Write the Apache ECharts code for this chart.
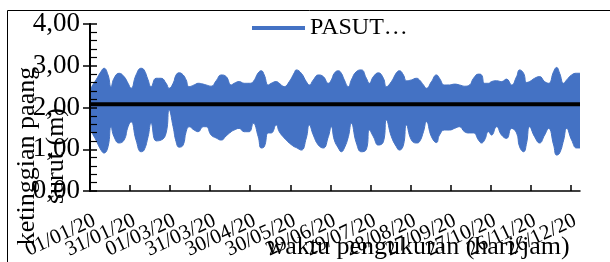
<!DOCTYPE html>
<html>
<head>
<meta charset="utf-8">
<script src="https://cdn.jsdelivr.net/npm/echarts@6/dist/echarts.min.js"></script>
<style>
html,body{margin:0;padding:0;background:#fff;}
#chart{width:610px;height:262px;}
</style>
</head>
<body>
<div id="chart"></div>
<script>
// Day offsets from 01/01/20 at which the envelope of the hourly tide record was read
const days = [0, 2.25, 4.5, 8.25, 10.5, 13.5, 15.75, 18, 21.75, 25.5, 28.5, 30.75, 34.5, 38.25, 40.5, 43.5, 45.75, 49.5, 53.25, 57, 59.25, 62.25, 64.5, 66.75, 69.75, 72, 74.25, 78, 81, 84.75, 87, 90.75, 94.5, 98.25, 102, 105.75, 108, 111.75, 115.5, 119.25, 122.25, 126, 128.25, 130.5, 133.5, 135.75, 139.5, 141.75, 145.5, 149.25, 153, 154.5, 158.25, 162, 164.25, 167.25, 171, 174.75, 178.5, 180.75, 183, 186, 188.25, 190.5, 193.5, 195.75, 199.5, 203.25, 207, 209.25, 212.25, 216, 219.75, 222, 225.75, 229.5, 231.75, 234.75, 237, 240.75, 244.5, 246.75, 249.75, 252, 255.75, 259.5, 261.75, 265.5, 269.25, 273, 276.75, 280.5, 284.25, 287.25, 291, 293.25, 295.5, 298.5, 300.75, 304.5, 308.25, 312, 315.75, 319.5, 321.75, 324.75, 327, 329.25, 333, 336.75, 340.5, 343.5, 347.25, 349.5, 351.75, 354.75, 357, 360.75, 364.5, 367];
// Upper (high water) envelope of the PASUT series, metres
const upper = [2.42, 2.55, 2.66, 2.86, 2.94, 2.78, 2.50, 2.70, 2.82, 2.74, 2.58, 2.46, 2.78, 2.94, 2.90, 2.66, 2.50, 2.70, 2.70, 2.58, 2.46, 2.58, 2.78, 2.83, 2.78, 2.66, 2.50, 2.54, 2.58, 2.56, 2.54, 2.51, 2.64, 2.78, 2.74, 2.54, 2.58, 2.62, 2.58, 2.58, 2.62, 2.83, 2.88, 2.78, 2.54, 2.58, 2.62, 2.58, 2.50, 2.62, 2.83, 2.90, 2.82, 2.62, 2.54, 2.66, 2.78, 2.74, 2.58, 2.66, 2.82, 2.88, 2.82, 2.66, 2.50, 2.66, 2.86, 2.90, 2.70, 2.58, 2.74, 2.83, 2.70, 2.50, 2.62, 2.83, 2.88, 2.78, 2.64, 2.66, 2.70, 2.66, 2.54, 2.46, 2.62, 2.78, 2.70, 2.54, 2.54, 2.56, 2.54, 2.51, 2.54, 2.70, 2.80, 2.78, 2.58, 2.58, 2.62, 2.64, 2.62, 2.68, 2.54, 2.74, 2.90, 2.82, 2.60, 2.62, 2.70, 2.74, 2.62, 2.58, 2.86, 2.96, 2.82, 2.58, 2.66, 2.78, 2.82, 2.82];
// Lower (low water) envelope of the PASUT series, metres
const lower = [1.50, 1.35, 1.22, 0.98, 0.91, 1.06, 1.54, 1.30, 1.15, 1.22, 1.54, 1.66, 1.22, 0.94, 0.98, 1.30, 1.62, 1.20, 1.22, 1.39, 1.94, 1.54, 1.18, 1.05, 1.10, 1.42, 1.54, 1.46, 1.42, 1.54, 1.54, 1.34, 1.27, 1.22, 1.32, 1.42, 1.46, 1.50, 1.42, 1.42, 1.62, 1.30, 1.03, 1.06, 1.39, 1.39, 1.58, 1.42, 1.27, 1.15, 1.06, 1.04, 0.98, 1.27, 1.58, 1.34, 1.10, 1.03, 1.30, 1.54, 1.22, 1.03, 0.94, 1.03, 1.30, 1.62, 1.15, 0.94, 1.00, 1.46, 1.30, 1.10, 1.18, 1.70, 1.30, 1.06, 0.98, 1.10, 1.58, 1.22, 1.15, 1.18, 1.42, 1.66, 1.30, 1.16, 1.34, 1.46, 1.46, 1.50, 1.54, 1.42, 1.39, 1.39, 1.22, 1.15, 1.22, 1.42, 1.34, 1.54, 1.34, 1.26, 1.50, 1.39, 1.06, 0.94, 1.15, 1.54, 1.30, 1.15, 1.34, 1.50, 1.10, 0.86, 0.91, 1.22, 1.50, 1.22, 1.03, 1.03];
// Mean sea level line (black)
const mslDays = [0, 367];
const mslValues = [2.08, 2.08];
// Tick labels
const xTickDays = [0, 30, 60, 90, 120, 150, 180, 210, 240, 270, 300, 330, 360];
const xTickLabels = ['01/01/20', '31/01/20', '01/03/20', '31/03/20', '30/04/20', '30/05/20', '29/06/20', '29/07/20', '28/08/20', '27/09/20', '27/10/20', '26/11/20', '26/12/20'];
const yTickLabels = ['0,00', '1,00', '2,00', '3,00', '4,00'];
const seriesName = 'PASUT…';
const yTitle = 'ketinggian paang\nsurut (m)';
const xTitle = 'waktu pengukuran (hari/jam)';

const FONT = 'Liberation Serif';
const BLUE = '#4472C4';
const chart = echarts.init(document.getElementById('chart'), null, {renderer: 'canvas'});

const upperData = days.map((d, i) => [d, upper[i]]);
const lowerData = days.map((d, i) => [d, lower[i]]);
const mslData = mslDays.map((d, i) => [d, mslValues[i]]);

// Labels split over two overlapping axes so that ECharts does not drop any of them
const evenTicks = xTickDays.filter((d, i) => i % 2 === 0);
const oddTicks = xTickDays.filter((d, i) => i % 2 === 1);
const labelFmt = v => { const i = xTickDays.indexOf(Math.round(v)); return i >= 0 ? xTickLabels[i] : ''; };
const xLabelStyle = (vals) => ({
  customValues: vals, showMinLabel: true, showMaxLabel: true, hideOverlap: false,
  rotate: 25, align: 'right', verticalAlign: 'top', margin: 19,
  fontFamily: FONT, fontSize: 21, color: '#000', formatter: labelFmt
});

chart.setOption({
  backgroundColor: '#fff',
  animation: false,
  grid: {left: 90, top: 24, width: 490, height: 167, containLabel: false, outerBoundsMode: 'none'},
  legend: {
    data: [seriesName],
    left: 252, top: 16, padding: 0,
    icon: 'rect', itemWidth: 53, itemHeight: 4, itemGap: 5,
    textStyle: {fontFamily: FONT, fontSize: 24, color: '#000'}
  },
  xAxis: [{
    type: 'value', min: 0, max: 367, z: 10, position: 'bottom',
    axisLine: {show: true, lineStyle: {color: '#000', width: 1.5}},
    axisTick: {show: true, inside: true, length: 6, customValues: xTickDays, lineStyle: {color: '#000', width: 1.5}},
    axisLabel: xLabelStyle(evenTicks),
    splitLine: {show: false}
  }, {
    type: 'value', min: 0, max: 367, z: 10, position: 'bottom', offset: 0,
    axisLine: {show: false},
    axisTick: {show: false},
    axisLabel: xLabelStyle(oddTicks),
    splitLine: {show: false}
  }],
  yAxis: [{
    type: 'value', min: 0, max: 4, interval: 1, position: 'left', z: 10,
    axisLine: {show: true, lineStyle: {color: '#000', width: 2}},
    axisTick: {show: true, inside: false, length: 7, lineStyle: {color: '#000', width: 1.5}},
    axisLabel: {
      fontFamily: FONT, fontSize: 27, color: '#000', margin: 10,
      formatter: v => yTickLabels[Math.round(v)]
    },
    splitLine: {show: false}
  }, {
    type: 'value', min: 0, max: 4, interval: 1, position: 'left', offset: 0, z: 10,
    axisLine: {show: false},
    axisTick: {show: true, inside: true, length: 7, lineStyle: {color: '#000', width: 1.5}},
    minorTick: {show: true, splitNumber: 5, length: 7, lineStyle: {color: '#000', width: 1.2}},
    axisLabel: {show: false},
    splitLine: {show: false}
  }],
  series: [{
    name: seriesName, type: 'line', data: upperData,
    symbol: 'none', smooth: 0.5, color: BLUE,
    lineStyle: {color: BLUE, width: 1},
    areaStyle: {color: BLUE, opacity: 1, origin: 'start'}, z: 2
  }, {
    name: 'low', type: 'line', data: lowerData,
    symbol: 'none', smooth: 0.5, silent: true,
    lineStyle: {color: BLUE, width: 1},
    areaStyle: {color: '#fff', opacity: 1, origin: 'start'}, z: 3
  }, {
    name: 'msl', type: 'line', data: mslData,
    symbol: 'none', lineStyle: {color: '#000', width: 4}, z: 4, silent: true
  }],
  graphic: [{
    type: 'rect', silent: true, z: 100,
    shape: {x: 7.5, y: 10.5, width: 700, height: 400},
    style: {fill: 'none', stroke: '#000', lineWidth: 1}
  }, {
    type: 'text', silent: true, z: 101,
    x: 42, y: 156, rotation: Math.PI / 2,
    style: {text: yTitle, fontFamily: FONT, fontSize: 26, lineHeight: 29, fill: '#000', align: 'center', verticalAlign: 'middle'}
  }, {
    type: 'text', silent: true, z: 101,
    x: 418, y: 247,
    style: {text: xTitle, fontFamily: FONT, fontSize: 26, fill: '#000', align: 'center', verticalAlign: 'middle'}
  }]
});
</script>
</body>
</html>
